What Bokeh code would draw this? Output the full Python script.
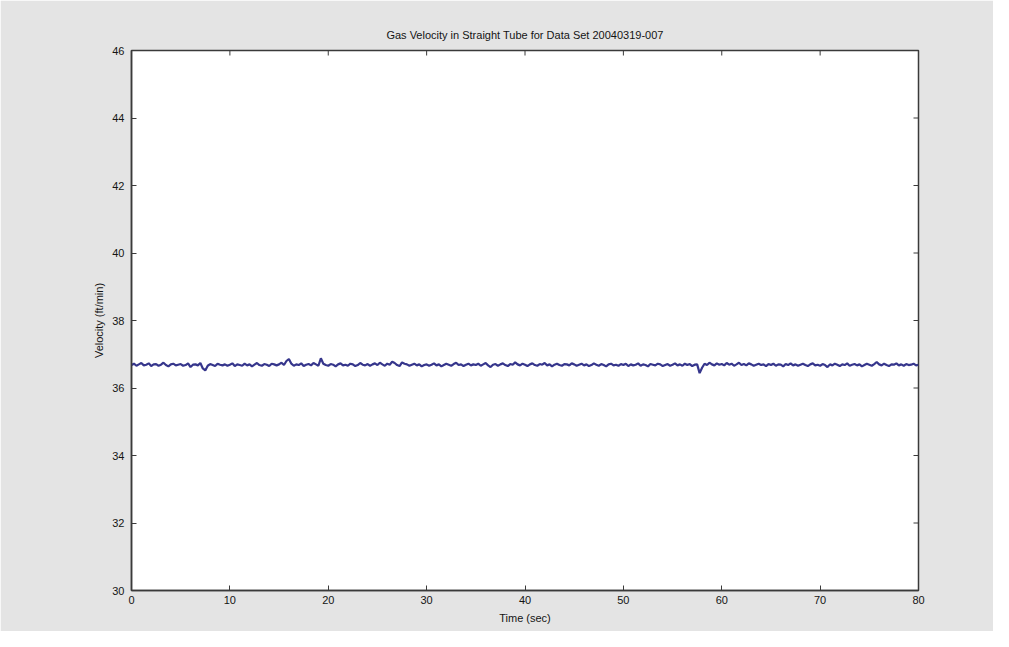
from bokeh.plotting import figure
from bokeh.models import Range1d, FixedTicker
from bokeh.embed import file_html
from bokeh.resources import INLINE
import numpy as np

title_text = "Gas Velocity in Straight Tube for Data Set 20040319-007"
x_label = "Time (sec)"
y_label = "Velocity (ft/min)"
x_lim = [0, 80]
y_lim = [30, 46]
x_ticks = [0, 10, 20, 30, 40, 50, 60, 70, 80]
y_ticks = [30, 32, 34, 36, 38, 40, 42, 44, 46]
sample_step = 0.25  # seconds between samples

velocity = [
    36.68, 36.72, 36.66, 36.70, 36.74, 36.67, 36.69, 36.73, 36.65, 36.70, 36.71, 36.66, 36.69, 36.75, 36.68, 36.64, 36.70, 36.72, 36.67, 36.69,
    36.71, 36.66, 36.68, 36.73, 36.62, 36.69, 36.70, 36.67, 36.74, 36.58, 36.52, 36.66, 36.71, 36.68, 36.65, 36.72, 36.69, 36.67, 36.70, 36.66,
    36.69, 36.73, 36.65, 36.70, 36.68, 36.66, 36.72, 36.67, 36.70, 36.64, 36.69, 36.74, 36.68, 36.66, 36.71, 36.69, 36.65, 36.72, 36.70, 36.67,
    36.70, 36.75, 36.68, 36.80, 36.86, 36.72, 36.66, 36.70, 36.68, 36.73, 36.65, 36.69, 36.71, 36.67, 36.74, 36.70, 36.66, 36.88, 36.72, 36.68,
    36.66, 36.71, 36.69, 36.64, 36.70, 36.73, 36.67, 36.69, 36.66, 36.72, 36.70, 36.65, 36.68, 36.74, 36.69, 36.67, 36.71, 36.66, 36.70, 36.73,
    36.68, 36.75, 36.70, 36.66, 36.72, 36.69, 36.78, 36.74, 36.68, 36.65, 36.76, 36.72, 36.70, 36.66, 36.69, 36.72, 36.67, 36.70, 36.64, 36.68,
    36.70, 36.66, 36.69, 36.73, 36.67, 36.70, 36.64, 36.68, 36.72, 36.69, 36.66, 36.71, 36.75, 36.68, 36.70, 36.65, 36.69, 36.72, 36.67, 36.70,
    36.68, 36.72, 36.66, 36.70, 36.74, 36.67, 36.62, 36.69, 36.71, 36.66, 36.70, 36.73, 36.68, 36.65, 36.71, 36.69, 36.76, 36.70, 36.67, 36.72,
    36.69, 36.65, 36.70, 36.73, 36.68, 36.66, 36.71, 36.69, 36.74, 36.67, 36.70, 36.64, 36.69, 36.72, 36.68, 36.66, 36.71, 36.70, 36.67, 36.73,
    36.70, 36.66, 36.69, 36.72, 36.67, 36.70, 36.65, 36.68, 36.73, 36.69, 36.66, 36.71, 36.68, 36.64, 36.70, 36.72, 36.67, 36.69, 36.66, 36.71,
    36.68, 36.72, 36.65, 36.70, 36.67, 36.69, 36.73, 36.66, 36.70, 36.68, 36.64, 36.71, 36.69, 36.67, 36.72, 36.70, 36.65, 36.68, 36.71, 36.66,
    36.69, 36.73, 36.67, 36.70, 36.66, 36.72, 36.68, 36.71, 36.65, 36.69, 36.70, 36.44, 36.60, 36.72, 36.68, 36.75, 36.70, 36.67, 36.73, 36.69,
    36.71, 36.67, 36.74, 36.69, 36.72, 36.66, 36.70, 36.75, 36.68, 36.71, 36.67, 36.73, 36.70, 36.66, 36.69, 36.72, 36.68, 36.70, 36.65, 36.71,
    36.68, 36.72, 36.66, 36.70, 36.69, 36.64, 36.71, 36.68, 36.73, 36.67, 36.70, 36.66, 36.69, 36.72, 36.68, 36.65, 36.70, 36.73, 36.67, 36.69,
    36.66, 36.71, 36.68, 36.62, 36.70, 36.67, 36.72, 36.69, 36.65, 36.70, 36.68, 36.73, 36.66, 36.69, 36.71, 36.67, 36.70, 36.64, 36.68, 36.72,
    36.69, 36.66, 36.71, 36.77, 36.70, 36.67, 36.72, 36.68, 36.65, 36.70, 36.69, 36.73, 36.67, 36.70, 36.66, 36.71, 36.68, 36.69, 36.72, 36.67,
    36.69,
]
time = np.arange(len(velocity)) * sample_step

FONT = "Liberation Sans"
BG = "#e4e4e4"
AX = "#3a3a3a"
TXT = "#141414"

p = figure(width=993, height=631, output_backend="svg", toolbar_location=None,
           x_range=Range1d(*x_lim), y_range=Range1d(*y_lim),
           min_border_left=131, min_border_right=75, min_border_top=50, min_border_bottom=41,
           background_fill_color="white", border_fill_color=BG,
           outline_line_color=AX, outline_line_width=1.5)

p.title.text = title_text
p.title.align = "center"
p.title.text_font = FONT
p.title.text_font_size = "11px"
p.title.text_font_style = "normal"
p.title.text_color = TXT
p.title.standoff = 19

p.line(time, velocity, line_color="#36368c", line_width=2.2)

p.xgrid.visible = False
p.ygrid.visible = False

for ax in (p.xaxis[0], p.yaxis[0]):
    ax.major_tick_in = 5
    ax.major_tick_out = 0
    ax.minor_tick_line_color = None
    ax.axis_line_color = AX
    ax.axis_line_width = 1.5
    ax.major_tick_line_color = AX
    ax.major_label_text_font = FONT
    ax.major_label_text_font_size = "11px"
    ax.major_label_text_color = TXT
    ax.axis_label_text_font = FONT
    ax.axis_label_text_font_size = "11px"
    ax.axis_label_text_font_style = "normal"
    ax.axis_label_text_color = TXT

p.xaxis[0].ticker = FixedTicker(ticks=x_ticks)
p.yaxis[0].ticker = FixedTicker(ticks=y_ticks)
p.xaxis[0].axis_label = x_label
p.yaxis[0].axis_label = y_label
p.xaxis[0].major_label_standoff = 5
p.xaxis[0].axis_label_standoff = 5
p.yaxis[0].major_label_standoff = 7
p.yaxis[0].axis_label_standoff = 4

# inward tick marks on the top and right edges of the box (MATLAB style)
p.ray(x=x_ticks, y=[y_lim[1]] * len(x_ticks), length=5, length_units="screen",
      angle=-np.pi / 2, line_color=AX, line_width=1)
p.ray(x=[x_lim[1]] * len(y_ticks), y=y_ticks, length=5, length_units="screen",
      angle=np.pi, line_color=AX, line_width=1)

open("out.html", "w").write(file_html(p, INLINE))
